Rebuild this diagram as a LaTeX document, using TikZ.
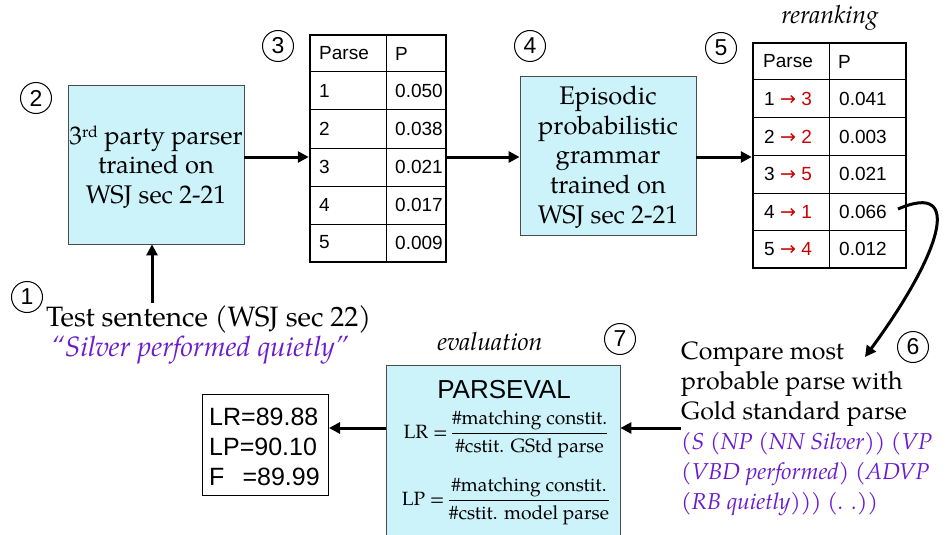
\documentclass[tikz,border=0pt]{standalone}
\usepackage{amsmath}
\usepackage{fontspec}
\setmainfont{TeX Gyre Pagella}
\setsansfont{Liberation Sans}
\newfontfamily\dejavu{DejaVu Sans}
\usetikzlibrary{arrows.meta}
\definecolor{boxfill}{HTML}{CCF2FA}
\definecolor{purp}{HTML}{6A1BD0}
\definecolor{redarr}{HTML}{CC0000}
\tikzset{
  bluebox/.style={draw=black!70, line width=0.8pt, fill=boxfill, inner sep=0pt},
  tbl/.style={draw, line width=2.5pt, inner sep=0pt},
  gridline/.style={line width=1pt},
  cell/.style={anchor=west, inner sep=0pt, font=\sffamily\fontsize{19}{21}\selectfont},
  numc/.style={draw, circle, line width=1pt, minimum size=31pt, inner sep=0pt, font=\sffamily\fontsize{23}{23}\selectfont},
  big/.style={font=\fontsize{25.5}{29.7}\selectfont, align=center, inner sep=0pt},
  frm/.style={inner sep=0pt, font=\fontsize{19.2}{22}\selectfont},
  flow/.style={line width=3pt, -{Triangle[length=11pt,width=11pt]}},
  rr/.style={text=redarr}
}
\begin{document}
\begin{tikzpicture}[x=1pt,y=-1pt]
\useasboundingbox (0,0) rectangle (946,535);
% box 2
\node[bluebox, minimum width=176pt, minimum height=159pt] (b2) at (156,164.5) {};
\node[big] (b2t) at (156,167) {3{\fontsize{16}{16}\selectfont\raisebox{7pt}{rd}} party parser\\trained on\\WSJ sec 2-21};
\node[numc] (c2) at (36,98) {2};
% test sentence
\node[anchor=west, inner sep=0pt, align=left, font=\fontsize{28}{30}\selectfont] (ts) at (46,335) {Test sentence (WSJ sec 22)\\\textcolor{purp}{\itshape\,\textquotedblleft Silver performed quietly\textquotedblright}};
\node[numc] (c1) at (27,297) {1};
\coordinate (tsin) at (152,303);
\draw[flow] (tsin) -- (b2.south -| tsin);
% table 3
\node[tbl, minimum width=136pt, minimum height=227pt] (t3) at (378,148.5) {};
\draw[gridline] (386,35) -- (386,262);
\foreach \y in {72,110,148,186,224} \draw[gridline] (310,\y) -- (446,\y);
\node[cell] (t3h1) at (319,53.5) {Parse};
\node[cell] (t3h2) at (395,53.5) {P};
\foreach \n/\p [count=\i] in {1/0.050,2/0.038,3/0.021,4/0.017,5/0.009} {
  \node[cell] (t3a\i) at (319,53.5+37.8*\i) {\n};
  \node[cell] (t3b\i) at (395,53.5+37.8*\i) {\p};
}
\node[numc] (c3) at (278,46) {3};
\coordinate (ay) at (0,157);
\draw[flow] (b2.east |- ay) -- (t3.west |- ay);
% box 4
\node[bluebox, minimum width=176pt, minimum height=159pt] (b4) at (608,155.5) {};
\node[big] (b4t) at (608,157) {Episodic\\probabilistic\\grammar\\trained on\\WSJ sec 2-21};
\node[numc] (c4) at (530,46) {4};
\draw[flow] (t3.east |- ay) -- (b4.west |- ay);
% table 5
\node[tbl, minimum width=153pt, minimum height=225pt] (t5) at (829.5,155.5) {};
\draw[gridline] (829,43) -- (829,268);
\foreach \y in {80,118,155,193,230} \draw[gridline] (753,\y) -- (906,\y);
\node[cell] (t5h1) at (763,61.5) {Parse};
\node[cell] (t5h2) at (838,61.5) {P};
\foreach \a/\b/\p [count=\i] in {1/3/0.041,2/2/0.003,3/5/0.021,4/1/0.066,5/4/0.012} {
  \node[cell] (t5a\i) at (764,61.5+37.5*\i) {\a\ \textcolor{redarr}{{\dejavu\fontsize{19}{19}\selectfont →}\ \b}};
  \node[cell] (t5b\i) at (839,61.5+37.5*\i) {\p};
}
\node[numc] (c5) at (721,48) {5};
\node[inner sep=0pt, font=\itshape\fontsize{25}{25}\selectfont] (rer) at (830,18) {reranking};
\draw[flow] (b4.east |- ay) -- (t5.west |- ay);
% compare text
\node[anchor=north west, inner sep=0pt, align=left, font=\fontsize{25}{30}\selectfont] (cmp) at (681,342) {Compare most\\probable parse with\\Gold standard parse\\\textcolor{purp}{\itshape\fontsize{23}{30}\selectfont (S (NP (NN Silver)) (VP}\\\textcolor{purp}{\itshape\fontsize{23}{30}\selectfont (VBD performed) (ADVP}\\\textcolor{purp}{\itshape\fontsize{23}{30}\selectfont (RB quietly))) (. .))}};
\node[numc] (c6) at (913,347) {6};
\coordinate (cs) at (898,209);
\coordinate (ce) at (865,357);
\draw[flow] (cs) .. controls (965,180) and (940,255) .. (ce);
% parseval box
\node[bluebox, minimum width=234pt, minimum height=180pt] (pv) at (503,455) {};
\node[inner sep=0pt, font=\sffamily\fontsize{26}{26}\selectfont] (pvt) at (504,390) {PARSEVAL};
\node[frm] (lr) at (506,434) {LR =\,$\dfrac{\text{\#matching constit.}}{\text{\#cstit. GStd parse}}$};
\node[frm] (lp) at (506,501) {LP =\,$\dfrac{\text{\#matching constit.}}{\text{\#cstit. model parse}}$};
\node[inner sep=0pt, font=\itshape\fontsize{25}{25}\selectfont] (ev) at (490,341) {evaluation};
\node[numc] (c7) at (620,339) {7};
\coordinate (cy) at (0,428);
\draw[flow] (cmp.west |- cy) -- (pv.east |- cy);
% results
\node[draw, line width=1pt, minimum width=126pt, minimum height=101pt, inner sep=0pt] (res) at (265.5,444.5) {};
\node[anchor=west, inner sep=0pt, align=left, font=\sffamily\fontsize{25}{30}\selectfont] (rest) at (209,447) {LR=89.88\\LP=90.10\\F\ \ \,=89.99};
\draw[flow] (pv.west |- cy) -- (res.east |- cy);
\end{tikzpicture}
\end{document}
